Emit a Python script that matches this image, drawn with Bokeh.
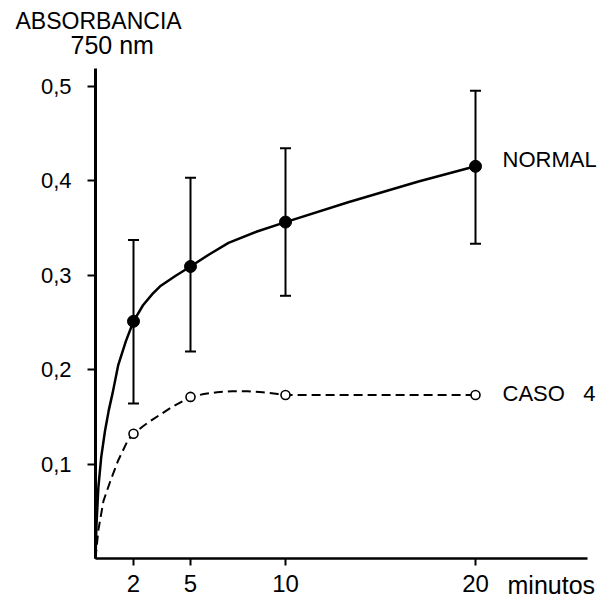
from bokeh.plotting import figure
from bokeh.models import ColumnDataSource, Whisker, TeeHead, FixedTicker, Label, Range1d
from bokeh.embed import file_html
from bokeh.resources import INLINE

# ---- data ----
times = [2, 5, 10, 20]
normal_mean = [0.251, 0.309, 0.356, 0.415]
normal_low = [0.164, 0.219, 0.278, 0.333]
normal_high = [0.337, 0.403, 0.434, 0.495]
caso4_mean = [0.132, 0.171, 0.173, 0.173]

# hand-drawn fitted curves
normal_curve_t = [0, 0.05, 0.15, 0.3, 0.5, 0.7, 0.9, 1.2, 1.6, 2, 2.5, 3.0, 3.4, 4.2, 5, 6, 7, 8.5, 10, 13.3, 17, 20]
normal_curve_v = [0, 0.035, 0.075, 0.107, 0.135, 0.157, 0.175, 0.205, 0.23, 0.251, 0.268, 0.280, 0.288, 0.299, 0.309,
                  0.322, 0.334, 0.346, 0.356, 0.377, 0.399, 0.415]
caso4_curve_t = [0, 0.15, 0.42, 0.8, 1.2, 1.7, 2, 2.5, 3, 4, 5, 5.7, 6.4, 7.2, 8, 8.8, 9.6, 10, 20]
caso4_curve_v = [0, 0.03, 0.061, 0.083, 0.104, 0.125, 0.132, 0.140, 0.147, 0.160, 0.171, 0.174, 0.176, 0.177, 0.177,
                 0.176, 0.174, 0.173, 0.173]

x_ticks = [2, 5, 10, 20]
y_ticks = [0.1, 0.2, 0.3, 0.4, 0.5]
y_tick_labels = ["0,1", "0,2", "0,3", "0,4", "0,5"]

FONT = "Liberation Sans"

W, H = 604, 599
X0_PX, Y0_PX = 95, 558          # canvas position of the origin
px_per_x = 19.0
px_per_y = 945.0

p = figure(width=W, height=H, output_backend="svg", toolbar_location=None,
           x_range=Range1d(-X0_PX / px_per_x, (W - X0_PX) / px_per_x),
           y_range=Range1d(-(H - Y0_PX) / px_per_y, Y0_PX / px_per_y),
           min_border=0, min_border_left=0, min_border_right=0, min_border_top=0, min_border_bottom=0)
p.outline_line_color = None
p.xgrid.visible = False
p.ygrid.visible = False
p.background_fill_color = "white"
p.border_fill_color = "white"

# axes drawn at the origin
p.xaxis.fixed_location = 0
p.yaxis.fixed_location = 0
p.xaxis.ticker = FixedTicker(ticks=x_ticks)
p.yaxis.ticker = FixedTicker(ticks=y_ticks)
p.yaxis.major_label_overrides = {t: l for t, l in zip(y_ticks, y_tick_labels)}
p.xaxis.bounds = (0, 25.9)
p.yaxis.bounds = (0, 0.518)
for ax in (p.xaxis, p.yaxis):
    ax.axis_line_color = "black"
    ax.major_tick_line_color = "black"
    ax.major_tick_line_width = 2
    ax.minor_tick_line_color = None
    ax.major_tick_in = 0
    ax.major_label_text_color = "black"
    ax.major_label_text_font = FONT
p.yaxis.axis_line_width = 3
p.xaxis.axis_line_width = 2.5
p.yaxis.major_tick_out = 8
p.xaxis.major_tick_out = 7
p.yaxis.major_label_standoff = 16
p.xaxis.major_label_standoff = 9
p.yaxis.major_label_text_font_size = "22px"
p.xaxis.major_label_text_font_size = "24px"

# curves
p.line(normal_curve_t, normal_curve_v, line_color="black", line_width=2.5)
p.line(caso4_curve_t, caso4_curve_v, line_color="black", line_width=2, line_dash="9 5")

# error bars
src = ColumnDataSource(dict(t=times, m=normal_mean, lo=normal_low, hi=normal_high, c=caso4_mean))
wh = Whisker(source=src, base="t", lower="lo", upper="hi", line_color="black", line_width=2,
             upper_head=TeeHead(size=11, line_width=2, line_color="black"),
             lower_head=TeeHead(size=11, line_width=2, line_color="black"))
p.add_layout(wh)

p.scatter("t", "m", source=src, size=12, fill_color="black", line_color="black")
p.scatter("t", "c", source=src, size=9, fill_color="white", line_color="black", line_width=1.6)

# texts
def lab(px, py, text, size):
    p.add_layout(Label(x=(px - X0_PX) / px_per_x, y=(Y0_PX - py) / px_per_y, text=text,
                       text_font=FONT, text_font_size=size,
                       text_color="black", text_align="left", text_baseline="middle"))

lab(15, 20, "ABSORBANCIA", "23px")
lab(70, 44, "750 nm", "25px")
lab(502, 159, "NORMAL", "22px")
lab(502, 393, "CASO\u00a0\u00a0\u00a04", "22px")
lab(507, 584, "minutos", "25px")

open("out.html", "w").write(file_html(p, INLINE))
